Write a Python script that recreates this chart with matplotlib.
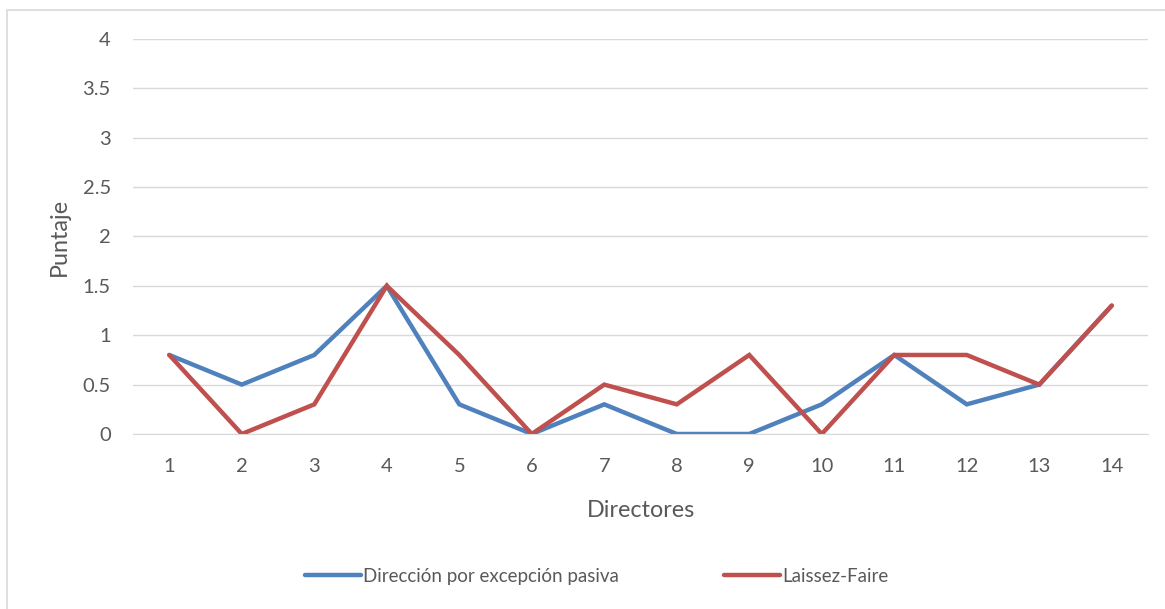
import matplotlib
matplotlib.use("Agg")
import matplotlib.pyplot as plt
from matplotlib.patches import Rectangle

plt.rcParams['font.family'] = ['Lato', 'DejaVu Sans']

directores = list(range(1, 15))
pasiva = [0.8, 0.5, 0.8, 1.5, 0.3, 0, 0.3, 0, 0, 0.3, 0.8, 0.3, 0.5, 1.3]
laissez = [0.8, 0, 0.3, 1.5, 0.8, 0, 0.5, 0.3, 0.8, 0, 0.8, 0.8, 0.5, 1.3]

gris = '#595959'

fig = plt.figure(figsize=(11.65, 6.09), dpi=100)
ax = fig.add_axes([0.1142, 0.2874, 0.8712, 0.6486])

ax.plot(directores, pasiva, color='#4F81BD', lw=3.2, solid_capstyle='round',
        solid_joinstyle='miter', label='Dirección por excepción pasiva')
ax.plot(directores, laissez, color='#C0504D', lw=3.2, solid_capstyle='round',
        solid_joinstyle='miter', label='Laissez-Faire')

ax.set_xlim(0.5, 14.5)
ax.set_ylim(0, 4)
ax.set_xticks(directores)
ax.set_yticks([0, 0.5, 1, 1.5, 2, 2.5, 3, 3.5, 4])
ax.set_yticklabels(['0', '0.5', '1', '1.5', '2', '2.5', '3', '3.5', '4'])
ax.yaxis.grid(True, color='#D9D9D9', lw=1)
ax.set_axisbelow(True)
for s in ['top', 'right', 'left']:
    ax.spines[s].set_visible(False)
ax.spines['bottom'].set_color('#D9D9D9')
ax.tick_params(axis='both', length=0, labelsize=14.5, labelcolor=gris)
ax.tick_params(axis='y', pad=16)
ax.tick_params(axis='x', pad=17)

ax.set_xlabel('Directores', fontsize=16.8, color=gris, labelpad=18)
ax.set_ylabel('Puntaje', fontsize=16.8, color=gris, labelpad=9)

leg = fig.legend(loc='center', bbox_to_anchor=(0.512, 0.054), ncol=2,
                 frameon=False, fontsize=13.5, handlelength=3.0,
                 handletextpad=0.1, columnspacing=5.6, labelcolor=gris)

# borde exterior del grafico
fig.patches.append(Rectangle((0.006, -0.01), 1.0, 0.994, transform=fig.transFigure,
                             fill=False, edgecolor='#D9D9D9', lw=1.2))

fig.savefig('out.png', dpi=100)
